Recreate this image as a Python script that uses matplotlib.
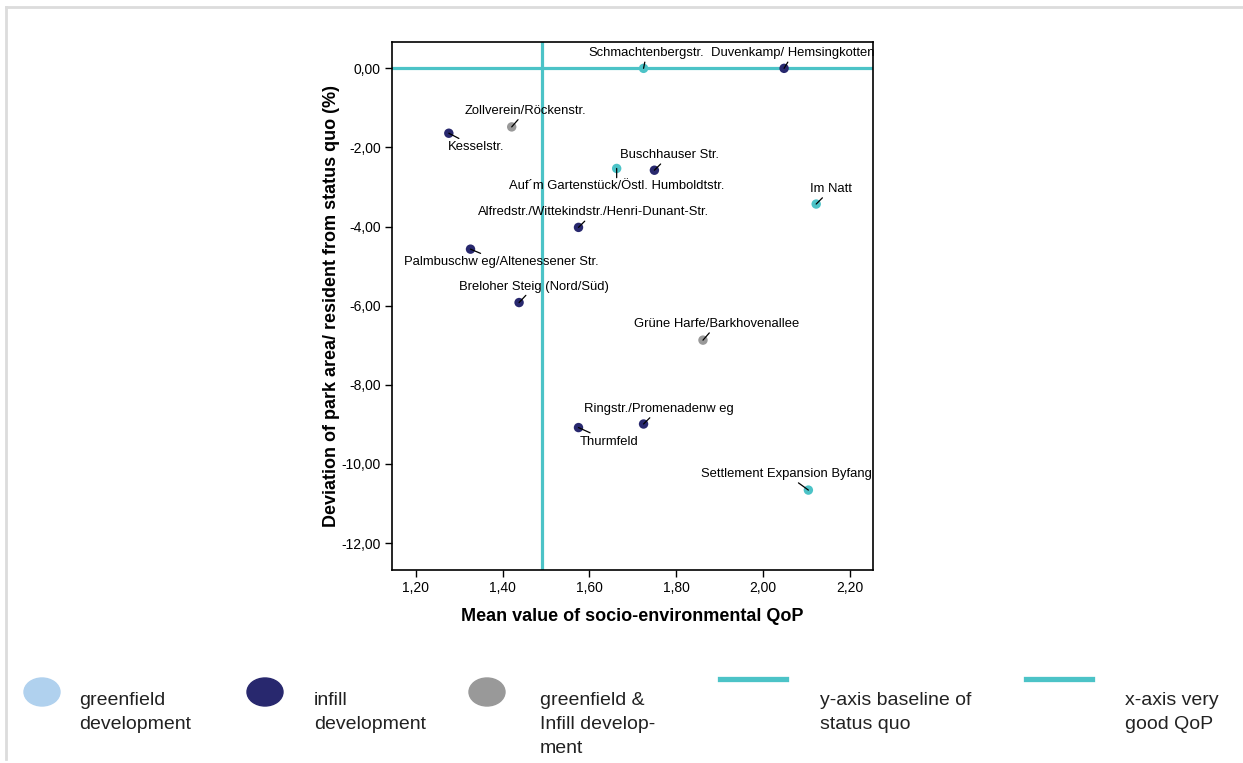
import matplotlib
matplotlib.use("Agg")
import matplotlib.pyplot as plt
from matplotlib.patches import Ellipse
from matplotlib.lines import Line2D

# data
names = ["Schmachtenbergstr.", "Duvenkamp/ Hemsingkotten", "Zollverein/Röckenstr.",
         "Kesselstr.", "Auf´m Gartenstück/Östl. Humboldtstr.", "Buschhauser Str.",
         "Im Natt", "Alfredstr./Wittekindstr./Henri-Dunant-Str.",
         "Palmbuschw eg/Altenessener Str.", "Breloher Steig (Nord/Süd)",
         "Grüne Harfe/Barkhovenallee", "Thurmfeld", "Ringstr./Promenadenw eg",
         "Settlement Expansion Byfang"]
qop = [1.725, 2.049, 1.421, 1.276, 1.663, 1.750, 2.123, 1.575, 1.326, 1.438,
       1.862, 1.575, 1.725, 2.105]
park_dev = [0.0, 0.0, -1.48, -1.64, -2.53, -2.575, -3.43, -4.02, -4.57, -5.92,
            -6.87, -9.08, -8.99, -10.66]
kind = ["green", "infill", "both", "infill", "green", "infill", "green", "infill",
        "infill", "infill", "both", "infill", "infill", "green"]
# label offsets (pixels) from each point
offsets = [(3, 15), (9, 15), (14, 16), (27, -14), (0, -18), (15, 15), (15, 15),
           (15, 15), (31, -13), (15, 16), (14, 16), (31, -14), (15, 15), (-22, 16)]

baseline_y = 0.0
very_good_qop = 1.49

colors = {"green": "#4cc3c7", "infill": "#28286e", "both": "#999999"}
cyan = "#4cc3c7"

fig = plt.figure(figsize=(12.43, 7.63), dpi=100)
ax = fig.add_axes([392 / 1243, 1 - 570 / 763, 481 / 1243, 528 / 763])

ax.axhline(baseline_y, color=cyan, lw=2.3, zorder=1)
ax.axvline(very_good_qop, color=cyan, lw=2.3, zorder=1)

for x, y, k, name, off in zip(qop, park_dev, kind, names, offsets):
    ax.scatter(x, y, s=46, color=colors[k], zorder=3, edgecolors="none")
    ax.annotate(name, (x, y), xytext=off, textcoords="offset pixels",
                ha="center", va="center", fontsize=9.4, family="Liberation Sans",
                zorder=4,
                arrowprops=dict(arrowstyle="-", color="black", lw=0.9,
                                shrinkA=0, shrinkB=0))

ax.set_xlim(1.145, 2.254)
ax.set_ylim(-12.68, 0.666)
ax.set_xticks([1.2, 1.4, 1.6, 1.8, 2.0, 2.2])
ax.set_yticks([0, -2, -4, -6, -8, -10, -12])
ax.set_xticklabels([f"{v:.2f}".replace(".", ",") for v in ax.get_xticks()])
ax.set_yticklabels([f"{v:.2f}".replace(".", ",") for v in ax.get_yticks()])
ax.tick_params(labelsize=10, length=5, width=1, direction="out", pad=3)
for lab in ax.get_xticklabels() + ax.get_yticklabels():
    lab.set_family("Liberation Sans")
for s in ax.spines.values():
    s.set_linewidth(1.2)

ax.set_xlabel("Mean value of socio-environmental QoP", fontsize=13,
              fontweight="bold", family="Liberation Sans", labelpad=9)
ax.set_ylabel("Deviation of park area/ resident from status quo (%)", fontsize=13,
              fontweight="bold", family="Liberation Sans", labelpad=1)

# slide frame
fig.add_artist(Line2D([5.5 / 1243, 5.5 / 1243], [0.005, 1 - 6.5 / 763],
                      transform=fig.transFigure, color="#dcdcdc", lw=2))
fig.add_artist(Line2D([5.5 / 1243, 1.0], [1 - 6.5 / 763, 1 - 6.5 / 763],
                      transform=fig.transFigure, color="#dcdcdc", lw=2))

# legend drawn below
leg_font = dict(fontsize=14, family="Liberation Sans",
                color="#222222", va="top", ha="left", linespacing=1.55)
circles = [(42, "#b0d1ee"), (265, "#28286e"), (487, "#999999")]
for cx, c in circles:
    fig.add_artist(Ellipse((cx / 1243, 1 - 692 / 763), 36 / 1243, 28 / 763,
                           transform=fig.transFigure, color=c))
for x0 in (720, 1026):
    fig.add_artist(Line2D([x0 / 1243, (x0 + 66) / 1243], [1 - 679 / 763] * 2,
                          transform=fig.transFigure, color=cyan, lw=3.8))
legend_texts = [(79, "greenfield\ndevelopment"), (314, "infill\ndevelopment"),
                (540, "greenfield &\nInfill develop-\nment"),
                (820, "y-axis baseline of\nstatus quo"),
                (1125, "x-axis very\ngood QoP")]
for x0, t in legend_texts:
    fig.text(x0 / 1243, 1 - 692 / 763, t, **leg_font)

fig.savefig("out.png", dpi=100)
